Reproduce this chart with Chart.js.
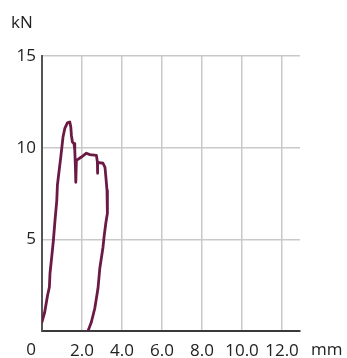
<!DOCTYPE html>
<html>
<head>
<meta charset="utf-8">
<script src="https://cdn.jsdelivr.net/npm/chart.js@4"></script>
<style>
  html, body { margin: 0; padding: 0; background: #fff; }
  #wrap { width: 347px; height: 358px; }
</style>
</head>
<body>
<div id="wrap"><canvas id="loadChart"></canvas></div>
<script>
// displacement (mm) and force (kN), in drawing order along the test curve
const displacement = [0, 0.13, 0.24, 0.28, 0.37, 0.40, 0.48, 0.57, 0.65, 0.74, 0.77, 0.84, 0.94, 1.05, 1.14, 1.27, 1.39, 1.44, 1.47, 1.52, 1.60, 1.64, 1.67, 1.69,
    1.72, 1.97, 2.22, 2.39, 2.72, 2.77, 2.77, 2.79, 3.05, 3.15, 3.20, 3.25, 3.27, 3.27, 3.19, 3.10, 3.05, 2.99, 2.89, 2.80, 2.64, 2.47, 2.30];
const force = [0.5, 1.0, 1.7, 1.95, 2.4, 3.15, 3.97, 4.95, 6.04, 7.13, 7.95, 8.6, 9.5, 10.58, 11.05, 11.35, 11.4, 11.13, 10.68, 10.31, 10.22, 9.86, 8.95, 8.11,
    9.31, 9.49, 9.7, 9.62, 9.58, 9.22, 8.6, 9.2, 9.15, 8.93, 8.33, 7.67, 7.13, 6.42, 5.88, 5.11, 4.57, 4.13, 3.42, 2.33, 1.24, 0.49, 0];

const xTicks = [0, 2, 4, 6, 8, 10, 12];
const yTicks = [0, 5, 10, 15];
const xUnit = 'mm';
const yUnit = 'kN';

const FONT = "'Open Sans', sans-serif";

const unitLabels = {
    id: 'unitLabels',
    afterDraw(chart) {
        const c = chart.ctx;
        const area = chart.chartArea;
        c.save();
        c.fillStyle = '#222';
        c.font = '17px ' + FONT;
        c.textBaseline = 'alphabetic';
        c.textAlign = 'left';
        c.fillText(yUnit, 11, 28);
        c.fillText(xUnit, 311, 355);
        c.textAlign = 'center';
        c.fillText('0', area.left - 11, 355);
        c.restore();
    }
};

new Chart(document.getElementById('loadChart'), {
    type: 'scatter',
    data: {
        datasets: [{
            data: displacement.map((d, i) => ({ x: d, y: force[i] })),
            showLine: true,
            borderColor: '#6b1a45',
            borderWidth: 2.8,
            pointRadius: 0,
            tension: 0,
            borderJoinStyle: 'round',
            borderCapStyle: 'round'
        }]
    },
    options: {
        responsive: true,
        maintainAspectRatio: false,
        animation: false,
        events: [],
        layout: { padding: { left: 0, top: 56, right: 47, bottom: 0 } },
        plugins: { legend: { display: false }, tooltip: { enabled: false } },
        scales: {
            x: {
                type: 'linear',
                min: 0,
                max: 12.9,
                afterBuildTicks: s => { s.ticks = xTicks.map(v => ({ value: v })); },
                afterFit: s => { s.height = 27; },
                grid: { color: '#c9c9c9', lineWidth: 1.5, drawTicks: false },
                border: { color: '#3a3a3a', width: 2 },
                ticks: {
                    color: '#222',
                    font: { family: FONT, size: 17 },
                    padding: 10,
                    maxRotation: 0,
                    autoSkip: false,
                    callback: v => v === 0 ? '' : v.toFixed(1)
                }
            },
            y: {
                min: 0,
                max: 15,
                afterBuildTicks: s => { s.ticks = yTicks.map(v => ({ value: v })); },
                afterFit: s => { s.width = 42; },
                grid: { color: '#c9c9c9', lineWidth: 1.5, drawTicks: false },
                border: { color: '#555', width: 2 },
                ticks: {
                    color: '#222',
                    font: { family: FONT, size: 17 },
                    padding: 6,
                    callback: v => v === 0 ? '' : String(v)
                }
            }
        }
    },
    plugins: [unitLabels]
});
</script>
</body>
</html>
